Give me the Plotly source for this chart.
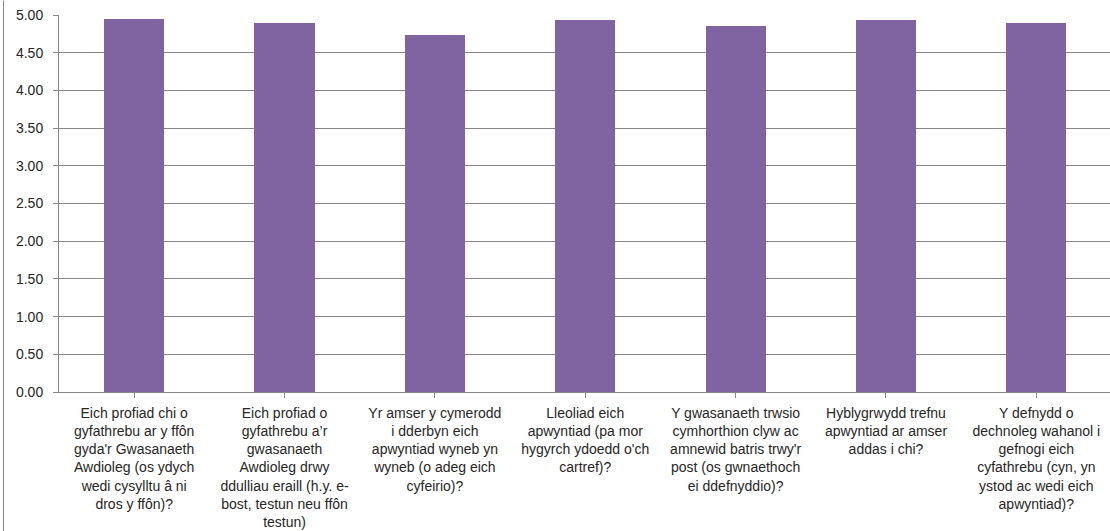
import plotly.graph_objects as go

categories = [
    "Eich profiad chi o<br>gyfathrebu ar y ffôn<br>gyda'r Gwasanaeth<br>Awdioleg (os ydych<br>wedi cysylltu â ni<br>dros y ffôn)?",
    "Eich profiad o<br>gyfathrebu a’r<br>gwasanaeth<br>Awdioleg drwy<br>ddulliau eraill (h.y. e-<br>bost, testun neu ffôn<br>testun)",
    "Yr amser y cymerodd<br>i dderbyn eich<br>apwyntiad wyneb yn<br>wyneb (o adeg eich<br>cyfeirio)?",
    "Lleoliad eich<br>apwyntiad (pa mor<br>hygyrch ydoedd o'ch<br>cartref)?",
    "Y gwasanaeth trwsio<br>cymhorthion clyw ac<br>amnewid batris trwy'r<br>post (os gwnaethoch<br>ei ddefnyddio)?",
    "Hyblygrwydd trefnu<br>apwyntiad ar amser<br>addas i chi?",
    "Y defnydd o<br>dechnoleg wahanol i<br>gefnogi eich<br>cyfathrebu (cyn, yn<br>ystod ac wedi eich<br>apwyntiad)?",
]
values = [4.95, 4.89, 4.74, 4.93, 4.86, 4.93, 4.90]
y_ticks = [0, 0.5, 1, 1.5, 2, 2.5, 3, 3.5, 4, 4.5, 5]
y_tick_labels = ["%.2f" % v for v in y_ticks]

fig = go.Figure(go.Bar(
    x=list(range(len(categories))),
    y=values,
    width=0.4,
    marker=dict(color="#8064A2", line=dict(width=0)),
))

W, H = 1110, 531
ml, mt, mb = 59, 14.5, 139.3
fig.update_layout(
    width=W, height=H,
    margin=dict(l=ml, r=0, t=mt, b=mb, pad=0),
    paper_bgcolor="white", plot_bgcolor="white",
    font=dict(family="Liberation Sans, Arial, sans-serif", size=14, color="#404040"),
    showlegend=False,
    bargap=0,
    xaxis=dict(
        range=[-0.5, 6.49],
        tickmode="array",
        tickvals=list(range(len(categories))),
        ticktext=categories,
        tickangle=0,
        automargin=False,
        showgrid=False,
        showline=True, linecolor="#868686", linewidth=1,
        ticks="outside", ticklen=5, tickcolor="#868686",
        ticklabelstandoff=3,
        tickfont=dict(size=14, color="#262626"),
        zeroline=False,
    ),
    yaxis=dict(
        range=[0, 5],
        tickmode="array",
        tickvals=y_ticks,
        ticktext=y_tick_labels,
        automargin=False,
        showgrid=True, gridcolor="#868686", gridwidth=1,
        showline=True, linecolor="#868686", linewidth=1,
        ticks="outside", ticklen=5, tickcolor="#868686",
        ticklabelstandoff=7,
        tickfont=dict(size=14, color="#262626"),
        zeroline=False,
    ),
    shapes=[dict(
        type="line", xref="paper", yref="paper",
        x0=(3.5 - ml) / (W - ml), x1=(3.5 - ml) / (W - ml),
        y0=-mb / (H - mt - mb),
        y1=1 + mt / (H - mt - mb),
        line=dict(color="#868686", width=1),
    )],
)

fig.write_html(
    "out.html",
    config={"displayModeBar": False},
    post_script="document.body.style.margin='0';document.body.style.overflow='hidden';",
)
